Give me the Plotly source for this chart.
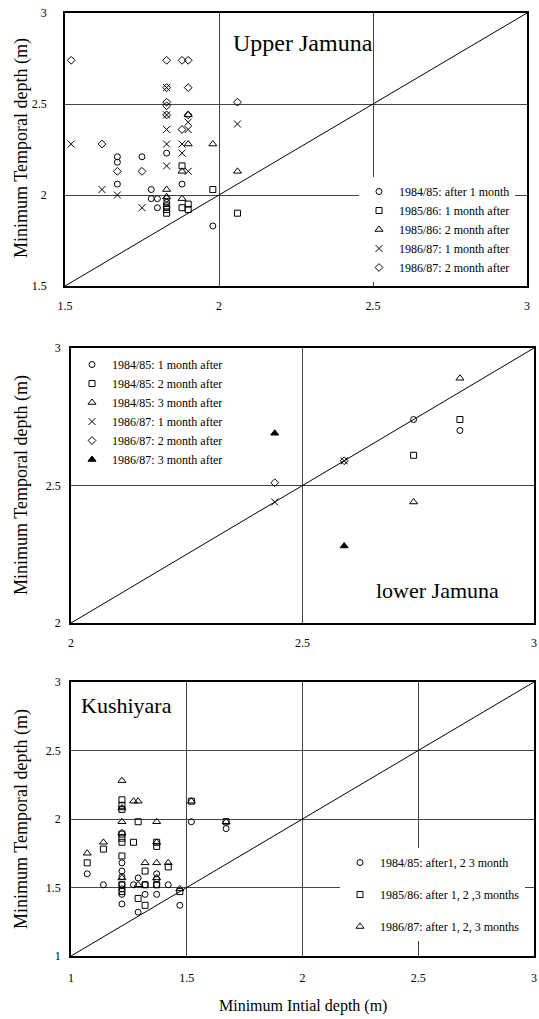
import plotly.graph_objects as go

W, H = 539, 1019
FONT = "Liberation Serif"

# ---------------- Panel 1: Upper Jamuna ----------------
uj_labels = ["1984/85: after 1 month", "1985/86: 1 month after", "1985/86: 2 month after",
             "1986/87: 1 month after", "1986/87: 2 month after"]
uj_s1_x = [1.67, 1.67, 1.67, 1.75, 1.78, 1.78, 1.80, 1.80, 1.83, 1.83, 1.83, 1.83, 1.88, 1.98]
uj_s1_y = [2.21, 2.18, 2.06, 2.21, 2.03, 1.98, 1.98, 1.93, 2.23, 1.98, 1.96, 1.93, 2.06, 1.83]
uj_s2_x = [1.83, 1.83, 1.83, 1.88, 1.88, 1.90, 1.90, 1.98, 2.06]
uj_s2_y = [1.92, 1.90, 1.94, 2.16, 1.93, 1.95, 1.92, 2.03, 1.90]
uj_s3_x = [1.83, 1.83, 1.88, 1.88, 1.90, 1.90, 1.98, 2.06]
uj_s3_y = [2.03, 1.99, 1.98, 2.13, 2.28, 2.44, 2.28, 2.13]
uj_s4_x = [1.52, 1.62, 1.67, 1.75, 1.83, 1.83, 1.83, 1.83, 1.83, 1.88, 1.88, 1.90, 1.90, 1.90, 2.06]
uj_s4_y = [2.28, 2.03, 2.00, 1.93, 2.36, 2.28, 2.16, 2.44, 2.59, 2.28, 2.23, 2.36, 2.13, 2.40, 2.39]
uj_s5_x = [1.52, 1.62, 1.67, 1.75, 1.83, 1.88, 1.90, 1.83, 1.90, 1.83, 1.83, 1.83, 1.90, 1.88, 2.06]
uj_s5_y = [2.74, 2.28, 2.13, 2.13, 2.74, 2.74, 2.74, 2.59, 2.59, 2.51, 2.49, 2.44, 2.44, 2.36, 2.51]

# ---------------- Panel 2: lower Jamuna ----------------
lj_labels = ["1984/85: 1 month after", "1984/85: 2 month after", "1984/85: 3 month after",
             "1986/87: 1 month after", "1986/87: 2 month after", "1986/87: 3 month after"]
lj_s1_x = [2.74, 2.84]
lj_s1_y = [2.74, 2.70]
lj_s2_x = [2.74, 2.84]
lj_s2_y = [2.61, 2.74]
lj_s3_x = [2.74, 2.84]
lj_s3_y = [2.44, 2.89]
lj_s4_x = [2.44, 2.59]
lj_s4_y = [2.44, 2.59]
lj_s5_x = [2.44, 2.59]
lj_s5_y = [2.51, 2.59]
lj_s6_x = [2.44, 2.59]
lj_s6_y = [2.69, 2.28]

# ---------------- Panel 3: Kushiyara ----------------
ku_labels = ["1984/85: after1, 2 3 month", "1985/86: after 1, 2 ,3 months",
             "1986/87: after 1, 2, 3 months"]
ku_s1_x = [1.07, 1.14, 1.22, 1.22, 1.22, 1.22, 1.22, 1.22, 1.22, 1.27, 1.29, 1.29, 1.32, 1.32,
           1.37, 1.37, 1.37, 1.37, 1.42, 1.47, 1.52, 1.67]
ku_s1_y = [1.60, 1.52, 1.68, 1.62, 1.58, 1.52, 1.49, 1.45, 1.38, 1.52, 1.57, 1.32, 1.52, 1.45,
           1.60, 1.56, 1.52, 1.45, 1.52, 1.37, 1.98, 1.93]
ku_s2_x = [1.07, 1.14, 1.22, 1.22, 1.22, 1.22, 1.22, 1.22, 1.22, 1.22, 1.22, 1.27, 1.29, 1.29,
           1.32, 1.32, 1.32, 1.37, 1.37, 1.37, 1.42, 1.47, 1.52, 1.67]
ku_s2_y = [1.68, 1.78, 2.14, 2.10, 2.07, 1.89, 1.86, 1.83, 1.73, 1.52, 1.47, 1.83, 1.98, 1.42,
           1.62, 1.52, 1.37, 1.83, 1.80, 1.52, 1.65, 1.47, 2.13, 1.98]
ku_s3_x = [1.07, 1.14, 1.22, 1.22, 1.22, 1.22, 1.22, 1.27, 1.29, 1.29, 1.32, 1.37, 1.37, 1.37,
           1.37, 1.42, 1.47, 1.52, 1.67]
ku_s3_y = [1.75, 1.83, 2.28, 2.08, 1.98, 1.90, 1.57, 2.13, 2.13, 1.52, 1.68, 1.98, 1.83, 1.68,
           1.57, 1.68, 1.49, 2.13, 1.98]

# tick values
uj_ticks = [1.5, 2, 2.5, 3]
lj_ticks = [2, 2.5, 3]
ku_ticks = [1, 1.5, 2, 2.5, 3]

SYMS = ["circle-open", "square-open", "triangle-up-open", "x-thin-open", "diamond-open", "triangle-up"]
SIZES = [6, 6, 7, 7, 6, 7]

fig = go.Figure()


def add_series(xs, ys, label, k, xa, ya, legend, group):
    fig.add_trace(go.Scatter(
        x=xs, y=ys, mode="markers", name=label, xaxis=xa, yaxis=ya,
        legend=legend, legendgroup=group,
        marker=dict(symbol=SYMS[k], size=SIZES[k], color="black",
                    line=dict(color="black", width=1)),
    ))


def add_diag(lo, hi, xa, ya):
    fig.add_trace(go.Scatter(x=[lo, hi], y=[lo, hi], mode="lines", xaxis=xa, yaxis=ya,
                             line=dict(color="black", width=1), showlegend=False,
                             hoverinfo="skip"))


add_diag(1.5, 3, "x", "y")
for k, (xs, ys) in enumerate([(uj_s1_x, uj_s1_y), (uj_s2_x, uj_s2_y), (uj_s3_x, uj_s3_y),
                              (uj_s4_x, uj_s4_y), (uj_s5_x, uj_s5_y)]):
    add_series(xs, ys, uj_labels[k], k, "x", "y", "legend", "uj%d" % k)

add_diag(2, 3, "x2", "y2")
for k, (xs, ys) in enumerate([(lj_s1_x, lj_s1_y), (lj_s2_x, lj_s2_y), (lj_s3_x, lj_s3_y),
                              (lj_s4_x, lj_s4_y), (lj_s5_x, lj_s5_y), (lj_s6_x, lj_s6_y)]):
    add_series(xs, ys, lj_labels[k], k, "x2", "y2", "legend2", "lj%d" % k)

add_diag(1, 3, "x3", "y3")
for k, (xs, ys) in enumerate([(ku_s1_x, ku_s1_y), (ku_s2_x, ku_s2_y), (ku_s3_x, ku_s3_y)]):
    add_series(xs, ys, ku_labels[k], k, "x3", "y3", "legend3", "ku%d" % k)


def px(v):
    return v / W


def py(v):
    return 1 - v / H


def axis(domain, rng, ticks, anchor, standoff):
    return dict(domain=domain, range=rng, tickvals=ticks,
                ticktext=[("%g" % t) for t in ticks], automargin=False,
                showline=True, mirror=True, linecolor="black", linewidth=1.5,
                showgrid=True, gridcolor="#444", gridwidth=1, zeroline=False,
                ticks="", anchor=anchor, ticklabelstandoff=standoff,
                tickfont=dict(family=FONT, size=12, color="black"))


legfont = dict(family=FONT, size=12, color="black")

fig.update_layout(
    template="none",
    width=W, height=H, margin=dict(l=0, r=0, t=0, b=0, pad=0), autosize=False,
    paper_bgcolor="white", plot_bgcolor="white",
    font=dict(family=FONT, color="black"),
    xaxis=axis([px(65), px(527)], [1.5, 3], uj_ticks, "y", 8),
    yaxis=axis([py(286), py(13)], [1.5, 3], uj_ticks, "x", 14),
    xaxis2=axis([px(71), px(534)], [2, 3], lj_ticks, "y2", 8),
    yaxis2=axis([py(623), py(348)], [2, 3], lj_ticks, "x2", 6),
    xaxis3=axis([px(71), px(534)], [1, 3], ku_ticks, "y3", 10),
    yaxis3=axis([py(956), py(682)], [1, 3], ku_ticks, "x3", 6),
    legend=dict(x=px(359), y=py(177), xanchor="left", yanchor="top", bgcolor="white",
                font=legfont, borderwidth=0, tracegroupgap=0),
    legend2=dict(x=px(72), y=py(350), xanchor="left", yanchor="top", bgcolor="white",
                 font=legfont, borderwidth=0, tracegroupgap=0),
    legend3=dict(x=px(340), y=py(848), xanchor="left", yanchor="top", bgcolor="white",
                 font=legfont, borderwidth=0, tracegroupgap=13),
    showlegend=True,
)

ann = [
    dict(text="Upper Jamuna", x=px(303), y=py(43), size=24),
    dict(text="lower Jamuna", x=px(437), y=py(590), size=22),
    dict(text="Kushiyara", x=px(126), y=py(705), size=22),
    dict(text="Minimum Intial depth (m)", x=px(303), y=py(1006), size=16),
]
for a in ann:
    fig.add_annotation(text=a["text"], x=a["x"], y=a["y"], xref="paper", yref="paper",
                       showarrow=False, xanchor="center", yanchor="middle",
                       font=dict(family=FONT, size=a["size"], color="black"))
for yc in [148, 485, 819]:
    fig.add_annotation(text="Minimum Temporal depth (m)", x=px(21), y=py(yc), xref="paper",
                       yref="paper", showarrow=False, textangle=-90, xanchor="center",
                       yanchor="middle", font=dict(family=FONT, size=18, color="black"))

fig.write_html("out.html", config={"displayModeBar": False},
               post_script="document.body.style.margin='0px';")
